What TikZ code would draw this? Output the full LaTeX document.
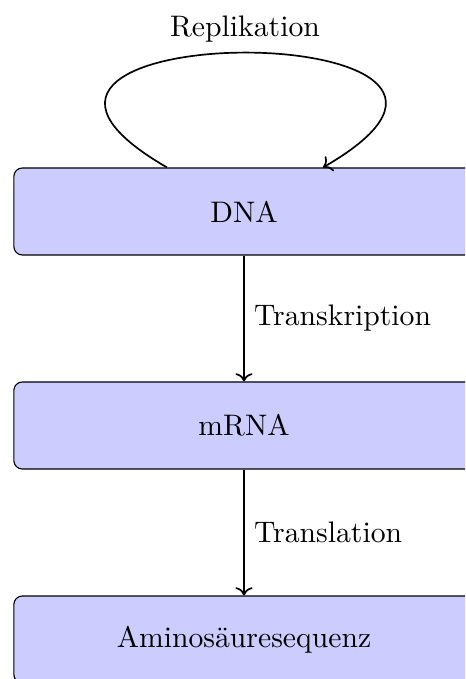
\documentclass[tikz,border=0pt]{standalone}
\usetikzlibrary{arrows.meta,calc}
\begin{document}
\begin{tikzpicture}[x=0.357pt,y=-0.357pt,
  every node/.style={font=\fontsize{10.6}{13}\selectfont},
  stage/.style={draw=black, fill=blue!20, rounded corners=3pt, minimum width=164.3pt, minimum height=31.06pt, inner sep=0pt},
  flow/.style={->, semithick}]
\clip (0,0) rectangle (465,679);
\node[stage] (dna) at (244,211.5) {DNA};
\node[stage] (mrna) at (244,425.5) {mRNA};
\node[stage] (amino) at (244,639.5) {Aminosäuresequenz};
\coordinate (rs) at ($(dna.north)+(-77,0)$);
\coordinate (re) at ($(dna.north)+(79,0)$);
\draw[flow] (rs) .. controls ($(rs)+(-265,-153)$) and ($(re)+(265,-153)$) .. node[above, inner sep=3.33pt] (replab) {Replikation} (re);
\draw[flow] (dna) -- node[right] (tlab) {Transkription} (mrna);
\draw[flow] (mrna) -- node[right] (tllab) {Translation} (amino);
\end{tikzpicture}
\end{document}
